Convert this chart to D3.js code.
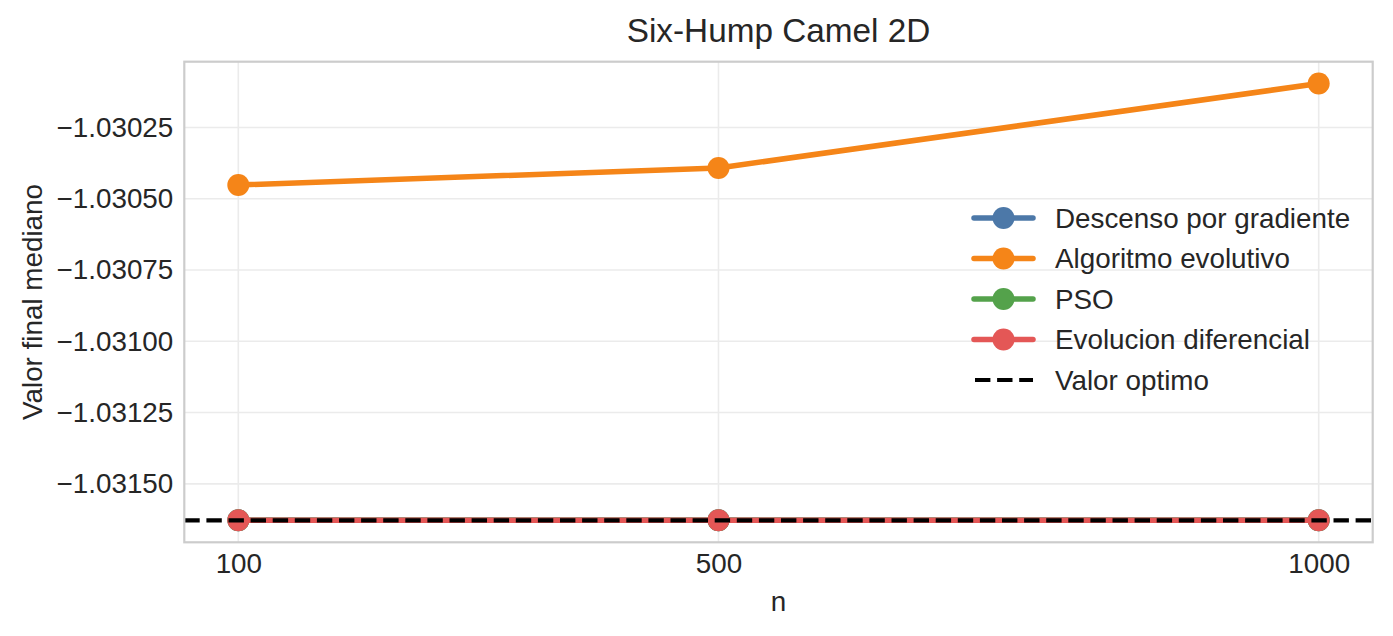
<!DOCTYPE html>
<html><head><meta charset="utf-8">
<script src="https://cdn.jsdelivr.net/npm/d3@7"></script>
<style>body{margin:0;background:#fff}text{font-family:"Liberation Sans",Arial,sans-serif;fill:#262626}</style>
</head><body><svg id="c" width="1393" height="636"></svg>
<script>
const nValues = [100, 500, 1000];
const gradDesc = [-1.031628, -1.031628, -1.031628];
const evolAlg = [-1.0304518, -1.0303922, -1.030096];
const pso = [-1.031628, -1.031628, -1.031628];
const difEvol = [-1.031628, -1.031628, -1.031628];
const optimum = -1.0316284535;
const yTicks = [-1.03025, -1.03050, -1.03075, -1.03100, -1.03125, -1.03150];
const seriesNames = ["Descenso por gradiente", "Algoritmo evolutivo", "PSO", "Evolucion diferencial"];
const seriesColors = ["#4c78a8", "#f58518", "#54a24b", "#e45756"];
const seriesValues = [gradDesc, evolAlg, pso, difEvol];

const svg = d3.select("#c");
const L = 184.3, R = 1372.7, T = 61.7, B = 542.3;
const FS = "27.8px";
const x = d3.scaleLinear().domain([55, 1045]).range([L, R]);
const allY = seriesValues.flat().concat([optimum]);
const ymin = d3.min(allY), ymax = d3.max(allY), m = (ymax - ymin) * 0.05;
const y = d3.scaleLinear().domain([ymin - m, ymax + m]).range([B, T]);

// grid
const g = svg.append("g");
g.selectAll(".gy").data(yTicks).enter().append("line")
  .attr("x1", L).attr("x2", R).attr("y1", d => y(d)).attr("y2", d => y(d))
  .attr("stroke", "#ebebeb").attr("stroke-width", 1.6);
g.selectAll(".gx").data(nValues).enter().append("line")
  .attr("y1", T).attr("y2", B).attr("x1", d => x(d)).attr("x2", d => x(d))
  .attr("stroke", "#ebebeb").attr("stroke-width", 1.6);

// axes labels via d3 axes
const fmt = d => "\u2212" + Math.abs(d).toFixed(5);
const ya = svg.append("g").attr("transform", `translate(${L},0)`)
  .call(d3.axisLeft(y).tickValues(yTicks).tickFormat(fmt).tickSize(0).tickPadding(11));
const xa = svg.append("g").attr("transform", `translate(0,${B})`)
  .call(d3.axisBottom(x).tickValues(nValues).tickFormat(d3.format("d")).tickSize(0).tickPadding(11));
[ya, xa].forEach(a => { a.select(".domain").remove(); a.selectAll("text").style("font-size", FS).attr("fill", "#262626"); });

svg.append("clipPath").attr("id", "clp").append("rect").attr("x", L).attr("y", T).attr("width", R - L).attr("height", B - T);
const plot = svg.append("g").attr("clip-path", "url(#clp)");
const line = d3.line().x((d, i) => x(nValues[i])).y(d => y(d));
seriesValues.forEach((vals, k) => {
  plot.append("path").datum(vals).attr("d", line).attr("fill", "none")
    .attr("stroke", seriesColors[k]).attr("stroke-width", 5.5).attr("stroke-linejoin", "round").attr("stroke-linecap", "round");
  plot.selectAll(null).data(vals).enter().append("circle")
    .attr("cx", (d, i) => x(nValues[i])).attr("cy", d => y(d)).attr("r", 11).attr("fill", seriesColors[k]);
});
plot.append("line").attr("x1", L).attr("x2", R).attr("y1", y(optimum)).attr("y2", y(optimum))
  .attr("stroke", "#000").attr("stroke-width", 4.2).attr("stroke-dasharray", "15.4,6.7");

// frame
svg.append("rect").attr("x", L).attr("y", T).attr("width", R - L).attr("height", B - T)
  .attr("fill", "none").attr("stroke", "#cccccc").attr("stroke-width", 2.2);

// titles
svg.append("text").attr("x", (L + R) / 2).attr("y", 42).attr("text-anchor", "middle").style("font-size", "33.3px").text("Six-Hump Camel 2D");
svg.append("text").attr("x", (L + R) / 2).attr("y", 611).attr("text-anchor", "middle").style("font-size", FS).text("n");
svg.append("text").attr("transform", `translate(42,${(T + B) / 2}) rotate(-90)`).attr("text-anchor", "middle").style("font-size", FS).text("Valor final mediano");

// legend
const leg = svg.append("g");
const names = seriesNames.concat(["Valor optimo"]);
names.forEach((nm, i) => {
  const cy = 218 + i * 40.5;
  if (i < 4) {
    leg.append("line").attr("x1", 974).attr("x2", 1033).attr("y1", cy).attr("y2", cy)
      .attr("stroke", seriesColors[i]).attr("stroke-width", 5.5).attr("stroke-linecap", "round");
    leg.append("circle").attr("cx", 1003.5).attr("cy", cy).attr("r", 11).attr("fill", seriesColors[i]);
  } else {
    leg.append("line").attr("x1", 975).attr("x2", 1033).attr("y1", cy).attr("y2", cy)
      .attr("stroke", "#000").attr("stroke-width", 4.2).attr("stroke-dasharray", "15.4,6.7");
  }
  leg.append("text").attr("x", 1055).attr("y", cy).attr("dy", "0.35em").style("font-size", FS).text(nm);
});
</script></body></html>
